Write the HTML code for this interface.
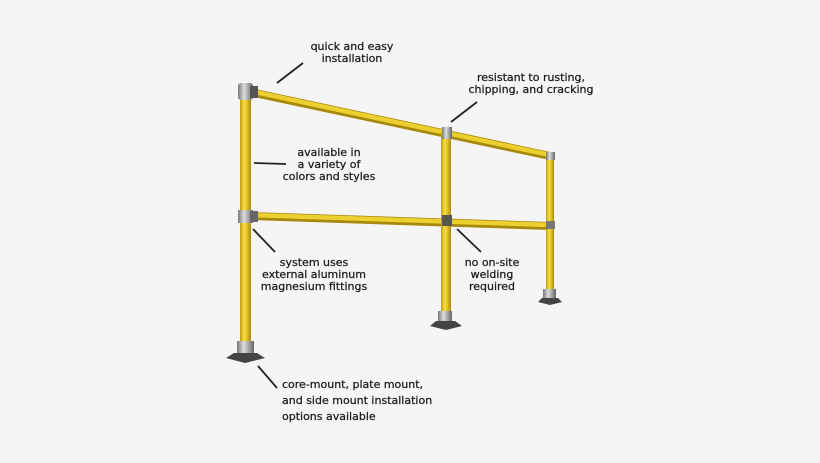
<!DOCTYPE html>
<html><head><meta charset="utf-8"><style>
html,body{margin:0;padding:0;background:#f5f5f5;}
svg{display:block}
text{font-family:"DejaVu Sans","Liberation Sans",sans-serif;font-size:11px;fill:#1a1a1a;stroke:#1a1a1a;stroke-width:0.25px;}
</style></head><body>
<svg width="820" height="463" viewBox="0 0 820 463" xmlns="http://www.w3.org/2000/svg">
<defs>
<linearGradient id="pv" x1="0" x2="1" y1="0" y2="0">
<stop offset="0" stop-color="#b89a10"/><stop offset="0.35" stop-color="#f5dc45"/><stop offset="0.6" stop-color="#e8c82a"/><stop offset="1" stop-color="#a8880c"/>
</linearGradient>
<linearGradient id="mt" x1="0" x2="1" y1="0" y2="0">
<stop offset="0" stop-color="#777"/><stop offset="0.4" stop-color="#ddd"/><stop offset="1" stop-color="#666"/>
</linearGradient>
</defs>
<line x1="250" y1="92" x2="550" y2="156" stroke="#a8880c" stroke-width="8"/>
<line x1="250" y1="91" x2="550" y2="155" stroke="#ecd030" stroke-width="4.5"/>
<line x1="250" y1="216" x2="550" y2="226" stroke="#a8880c" stroke-width="8"/>
<line x1="250" y1="215" x2="550" y2="225" stroke="#ecd030" stroke-width="4.5"/>
<rect x="240" y="92" width="11" height="256" fill="url(#pv)"/>
<rect x="441" y="132" width="10" height="188" fill="url(#pv)"/>
<rect x="546" y="157" width="8" height="138" fill="url(#pv)"/>
<rect x="238" y="83" width="15" height="17" rx="3" fill="url(#mt)"/>
<rect x="250" y="86" width="8" height="12" fill="#555"/>
<rect x="238" y="210" width="15" height="13" fill="url(#mt)"/>
<rect x="250" y="211" width="8" height="11" fill="#666"/>
<rect x="442" y="127" width="10" height="12" fill="url(#mt)"/>
<rect x="442" y="215" width="10" height="11" fill="#555"/>
<rect x="546" y="152" width="9" height="8" fill="url(#mt)"/>
<rect x="546" y="221" width="9" height="8" fill="#777"/>
<rect x="237" y="341" width="17" height="15" fill="url(#mt)"/>
<polygon points="226,358 234,353 257,353 265,358 245,363" fill="#444"/>
<rect x="438" y="311" width="14" height="12" fill="url(#mt)"/>
<polygon points="430,326 436,321 455,321 462,326 446,330" fill="#444"/>
<rect x="543" y="289" width="13" height="10" fill="url(#mt)"/>
<polygon points="538,302 542,298 558,298 562,302 550,305" fill="#444"/>
<g stroke="#222" stroke-width="1.8">
<line x1="277" y1="83" x2="303" y2="63"/>
<line x1="451" y1="122" x2="477" y2="102"/>
<line x1="254" y1="163" x2="286" y2="164"/>
<line x1="253" y1="229" x2="275" y2="252"/>
<line x1="457" y1="229" x2="481" y2="252"/>
<line x1="258" y1="366" x2="277" y2="388"/>
</g>
<g text-anchor="middle">
<text x="352" y="50">quick and easy</text>
<text x="352" y="62">installation</text>
<text x="531" y="81">resistant to rusting,</text>
<text x="531" y="93">chipping, and cracking</text>
<text x="329" y="156">available in</text>
<text x="329" y="168">a variety of</text>
<text x="329" y="180">colors and styles</text>
<text x="314" y="266">system uses</text>
<text x="314" y="278">external aluminum</text>
<text x="314" y="290">magnesium fittings</text>
<text x="492" y="266">no on-site</text>
<text x="492" y="278">welding</text>
<text x="492" y="290">required</text>
</g>
<text x="282" y="388">core-mount, plate mount,</text>
<text x="282" y="404">and side mount installation</text>
<text x="282" y="420">options available</text>
</svg>
</body></html>
